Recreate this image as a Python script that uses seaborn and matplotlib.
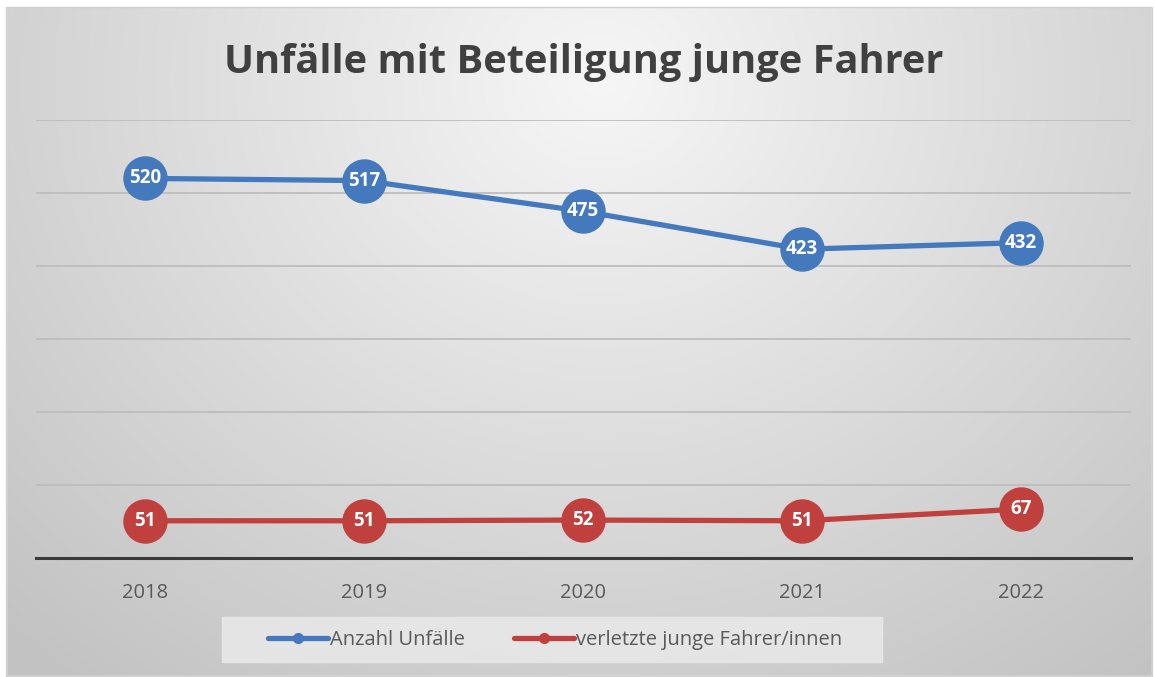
import numpy as np
import pandas as pd
import matplotlib
matplotlib.use("Agg")
import matplotlib.pyplot as plt
import seaborn as sns
from matplotlib.lines import Line2D
from matplotlib.patches import Rectangle

years = ["2018", "2019", "2020", "2021", "2022"]
unfaelle = [520, 517, 475, 423, 432]
verletzte = [51, 51, 52, 51, 67]
series_names = ["Anzahl Unfälle", "verletzte junge Fahrer/innen"]
title = "Unfälle mit Beteiligung junge Fahrer"

blue = "#4479bd"
red = "#c0403e"

sns.set_theme(style="white")
plt.rcParams["font.family"] = ["Open Sans", "DejaVu Sans"]

W, H = 1155, 677
fig = plt.figure(figsize=(W / 100, H / 100), dpi=100)

# background gradient panel
bg = fig.add_axes([0, 0, 1, 1], zorder=-10)
yy, xx = np.mgrid[0:H, 0:W]
cx, cy = 0.52 * W, 0.12 * H
r = np.sqrt(((xx - cx) / (0.62 * W)) ** 2 + ((yy - cy) / (0.95 * H)) ** 2)
val = 0.965 - 0.17 * np.clip(r, 0, 1.2) / 1.0
img = np.clip(val, 0, 1)
bg.imshow(np.dstack([img, img, img]), extent=[0, W, H, 0], aspect="auto")
bg.set_xlim(0, W)
bg.set_ylim(H, 0)
bg.axis("off")
# white outside the chart area and thin border
for rect in [(0, 0, W, 6), (0, 676, W, 2), (0, 0, 6, H), (1152, 0, 4, H)]:
    bg.add_patch(Rectangle(rect[:2], rect[2], rect[3], color="white", zorder=2))
bg.add_patch(Rectangle((6, 6.5), 1146, 669.5, fill=False, edgecolor="#d0d0d0", lw=1, zorder=3))
# legend background
bg.add_patch(Rectangle((222, 617), 660, 45, color="#e9e9e9", alpha=0.85, zorder=1))

ax = fig.add_axes([35.5 / W, 1 - 558 / H, (1130.5 - 35.5) / W, (558 - 120) / H])
ax.patch.set_alpha(0)

df = pd.DataFrame({
    "Jahr": years * 2,
    "Wert": unfaelle + verletzte,
    "Serie": [series_names[0]] * 5 + [series_names[1]] * 5,
})
df["x"] = list(range(5)) * 2

sns.lineplot(data=df, x="x", y="Wert", hue="Serie", palette=[blue, red],
             marker="o", markersize=32, markeredgewidth=0, linewidth=3.8,
             legend=False, ax=ax)

for vals in (unfaelle, verletzte):
    for i, v in enumerate(vals):
        ax.text(i, v, str(v), ha="center", va="center", color="white",
                fontsize=13.5, fontweight="bold", zorder=10)

ax.set_xlim(-0.5, 4.5)
ax.set_ylim(0, 600)
ax.set_yticks(range(100, 601, 100))
ax.yaxis.grid(True, color="#bdbdbd", lw=1.3)
ax.set_axisbelow(True)
ax.tick_params(axis="y", left=False, labelleft=False)
ax.set_xticks(range(5))
ax.set_xticklabels(years, fontsize=14.5, color="#595959")
ax.tick_params(axis="x", bottom=False, pad=12)
for s in ["top", "right", "left"]:
    ax.spines[s].set_visible(False)
ax.spines["bottom"].set_color("#3a3a3a")
ax.spines["bottom"].set_linewidth(2.2)
ax.set_xlabel("")
ax.set_ylabel("")

fig.text(584 / W, 1 - 62 / H, title, ha="center", va="center",
         fontsize=28.6, fontweight="bold", color="#404040")

handles = [Line2D([], [], color=blue, lw=3.8, marker="o", markersize=7),
           Line2D([], [], color=red, lw=3.8, marker="o", markersize=7)]
fig.legend(handles, series_names, loc="center", bbox_to_anchor=(555 / W, 1 - 640 / H),
           ncol=2, frameon=False, fontsize=14.5, labelcolor="#595959",
           handlelength=3.0, handletextpad=0.1, columnspacing=2.4)

fig.savefig("out.png", dpi=100)
